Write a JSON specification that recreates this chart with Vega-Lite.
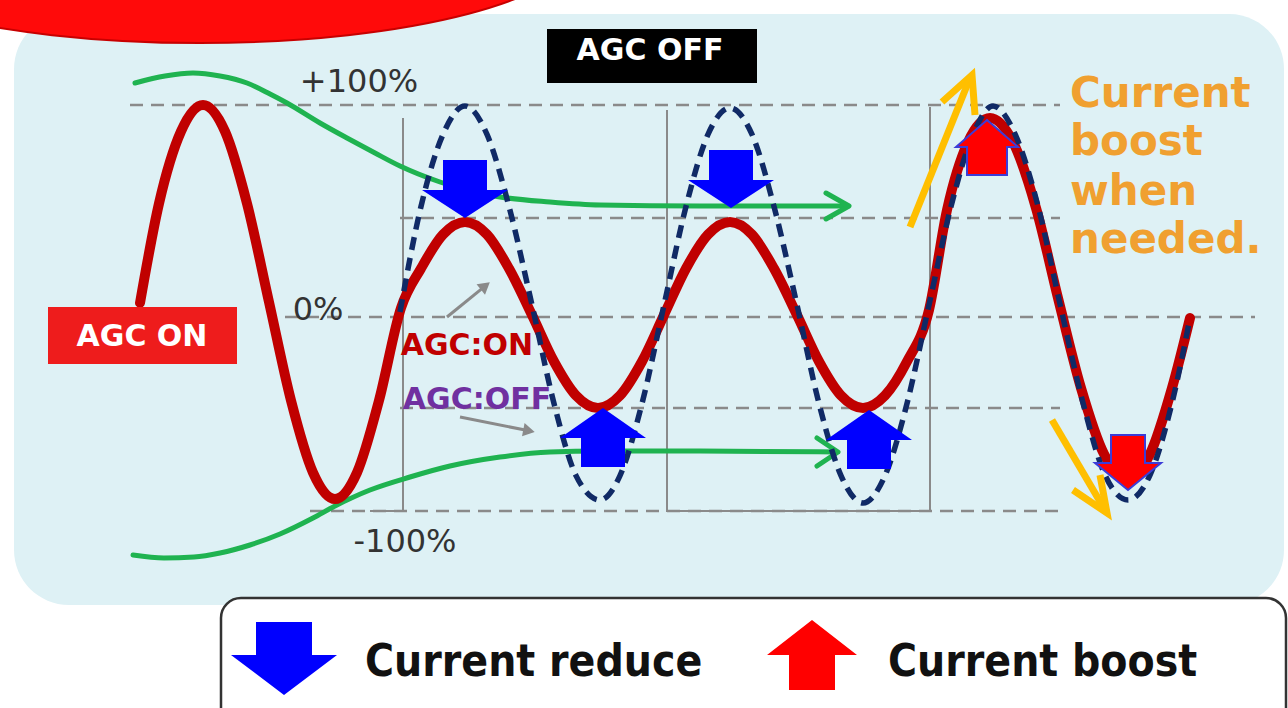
{
  "$schema": "https://vega.github.io/schema/vega-lite/v6.json",
  "width": 1288,
  "height": 708,
  "autosize": "none",
  "padding": 0,
  "background": "#ffffff",
  "config": {"view": {"stroke": null}},
  "resolve": {"scale": {"color": "independent", "shape": "independent"}},
  "datasets": {
    "panel": [{"t": -193, "t2": 442, "v": 147, "v2": -148.5}],
    "legendBox": [{"t": -89.5, "t2": 443, "v": -145, "v2": -216}],
    "tags": [
      {"name": "AGC OFF", "t": 73.5, "t2": 178.5, "v": 139.5, "v2": 112.5},
      {"name": "AGC ON", "t": -176, "t2": -81.5, "v": 0.5, "v2": -28}
    ],
    "banner": [{"t": -100, "v": 182.5}],
    "dashes": [
      {"id": "d100", "t": -135, "v": 101.5}, {"id": "d100", "t": 330, "v": 101.5},
      {"id": "d45", "t": 0, "v": 45}, {"id": "d45", "t": 330, "v": 45},
      {"id": "d0", "t": -57.5, "v": -4.5}, {"id": "d0", "t": 427.5, "v": -4.5},
      {"id": "dm50", "t": 0, "v": -50}, {"id": "dm50", "t": 330, "v": -50},
      {"id": "dm100", "t": -45, "v": -101.5}, {"id": "dm100", "t": 330, "v": -101.5}
    ],
    "frames": [
      {"id": "s1", "i": 0, "t": -15, "v": -101.5}, {"id": "s1", "i": 1, "t": 1.5, "v": -101.5}, {"id": "s1", "i": 2, "t": 1.5, "v": 95},
      {"id": "s2", "i": 0, "t": 133.5, "v": 99}, {"id": "s2", "i": 1, "t": 133.5, "v": -101.5}, {"id": "s2", "i": 2, "t": 265, "v": -101.5}, {"id": "s2", "i": 3, "t": 265, "v": 100.5}
    ],
    "agcOn": [
      {"t": -130, "v": 2.5}, {"t": -120.5, "v": 52.25}, {"t": -109.5, "v": 88.3}, {"t": -98.5, "v": 101.5},
      {"t": -87.5, "v": 88.3}, {"t": -76.5, "v": 52.25}, {"t": -65.5, "v": 3}, {"t": -54.5, "v": -46.25},
      {"t": -43.5, "v": -82.3}, {"t": -32.5, "v": -95.5}, {"t": -21.5, "v": -82.3}, {"t": -10.5, "v": -46.25},
      {"t": 0.5, "v": 0}, {"t": 10.5, "v": 19.75}, {"t": 21.5, "v": 36.75}, {"t": 32.5, "v": 43},
      {"t": 43.5, "v": 36.75}, {"t": 54.5, "v": 19.75}, {"t": 66, "v": -3.5}, {"t": 77, "v": -26.75},
      {"t": 88, "v": -43.75}, {"t": 99, "v": -50}, {"t": 110, "v": -43.75}, {"t": 121, "v": -26.75},
      {"t": 132, "v": -3.5}, {"t": 143, "v": 19.75}, {"t": 154, "v": 36.75}, {"t": 165, "v": 43},
      {"t": 176, "v": 36.75}, {"t": 187, "v": 19.75}, {"t": 198.5, "v": -3.5}, {"t": 209.5, "v": -26.75},
      {"t": 220.5, "v": -43.75}, {"t": 231.5, "v": -50}, {"t": 242.5, "v": -43.75}, {"t": 253.5, "v": -26.75},
      {"t": 264.5, "v": -1}, {"t": 273.5, "v": 49}, {"t": 284, "v": 83}, {"t": 295, "v": 95},
      {"t": 306.5, "v": 83}, {"t": 318, "v": 50}, {"t": 329, "v": 5}, {"t": 340.5, "v": -40},
      {"t": 352, "v": -73}, {"t": 363.5, "v": -85}, {"t": 375, "v": -73}, {"t": 386, "v": -40}, {"t": 395, "v": -5}
    ],
    "agcOff": [
      {"t": 0, "v": -2}, {"t": 10.5, "v": 50.75}, {"t": 21.5, "v": 86.8}, {"t": 32.5, "v": 101},
      {"t": 43.5, "v": 86.8}, {"t": 54.5, "v": 50.75}, {"t": 66, "v": 1.5}, {"t": 77, "v": -47.75},
      {"t": 88, "v": -83.8}, {"t": 100, "v": -96}, {"t": 110, "v": -83.8}, {"t": 121, "v": -47.75},
      {"t": 132, "v": 1.5}, {"t": 143, "v": 50.75}, {"t": 154, "v": 86.8}, {"t": 165, "v": 100},
      {"t": 176, "v": 86.8}, {"t": 187, "v": 50.75}, {"t": 198.5, "v": 1.5}, {"t": 209.5, "v": -47.75},
      {"t": 220.5, "v": -83.8}, {"t": 231.5, "v": -97.5}, {"t": 242.5, "v": -83.8}, {"t": 253.5, "v": -47.75},
      {"t": 264.5, "v": 1.5}, {"t": 275.5, "v": 50.75}, {"t": 286.5, "v": 86.8}, {"t": 296.5, "v": 101},
      {"t": 307.5, "v": 87}, {"t": 319, "v": 51}, {"t": 330, "v": 2}, {"t": 341.5, "v": -47.5},
      {"t": 352.5, "v": -83.5}, {"t": 364, "v": -96}, {"t": 375, "v": -83.5}, {"t": 386, "v": -47.5}, {"t": 395, "v": -5}
    ],
    "green": [
      {"id": "top", "t": -132.5, "v": 112.5}, {"id": "top", "t": -117.5, "v": 116}, {"id": "top", "t": -103.5, "v": 117.5},
      {"id": "top", "t": -90, "v": 116}, {"id": "top", "t": -76.5, "v": 112.5}, {"id": "top", "t": -65, "v": 107},
      {"id": "top", "t": -56.5, "v": 102.5}, {"id": "top", "t": -40, "v": 92.5}, {"id": "top", "t": -26.5, "v": 85},
      {"id": "top", "t": -12.5, "v": 77.5}, {"id": "top", "t": 0, "v": 71}, {"id": "top", "t": 20, "v": 63},
      {"id": "top", "t": 35, "v": 58.5}, {"id": "top", "t": 50, "v": 55.5}, {"id": "top", "t": 75, "v": 53},
      {"id": "top", "t": 100, "v": 51.5}, {"id": "top", "t": 150, "v": 51}, {"id": "top", "t": 224, "v": 51},
      {"id": "bottom", "t": -133.5, "v": -123.5}, {"id": "bottom", "t": -118, "v": -125}, {"id": "bottom", "t": -103, "v": -124.5},
      {"id": "bottom", "t": -90, "v": -122.5}, {"id": "bottom", "t": -75, "v": -118.5}, {"id": "bottom", "t": -60, "v": -113},
      {"id": "bottom", "t": -43.5, "v": -105}, {"id": "bottom", "t": -32.5, "v": -99}, {"id": "bottom", "t": -15, "v": -91},
      {"id": "bottom", "t": 5, "v": -84.5}, {"id": "bottom", "t": 25, "v": -79}, {"id": "bottom", "t": 50, "v": -74.5},
      {"id": "bottom", "t": 75, "v": -72}, {"id": "bottom", "t": 100, "v": -71.5}, {"id": "bottom", "t": 150, "v": -71.5},
      {"id": "bottom", "t": 218, "v": -72}
    ],
    "greenHeads": [
      {"id": "top", "i": 0, "t": 213, "v": 57.5}, {"id": "top", "i": 1, "t": 224.5, "v": 51}, {"id": "top", "i": 2, "t": 213, "v": 44.5},
      {"id": "bottom", "i": 0, "t": 208.5, "v": -65}, {"id": "bottom", "i": 1, "t": 219, "v": -72}, {"id": "bottom", "i": 2, "t": 208.5, "v": -79}
    ],
    "orange": [
      {"id": "o1s", "i": 0, "t": 255, "v": 40.5}, {"id": "o1s", "i": 1, "t": 285, "v": 115},
      {"id": "o1h", "i": 0, "t": 271, "v": 103}, {"id": "o1h", "i": 1, "t": 286, "v": 116.5}, {"id": "o1h", "i": 2, "t": 287.5, "v": 96.5},
      {"id": "o2s", "i": 0, "t": 326, "v": -56}, {"id": "o2s", "i": 1, "t": 352.5, "v": -101},
      {"id": "o2h", "i": 0, "t": 336.5, "v": -91}, {"id": "o2h", "i": 1, "t": 353.5, "v": -102.5}, {"id": "o2h", "i": 2, "t": 350, "v": -83.5}
    ],
    "pointers": [
      {"id": "a1", "t": 23.5, "v": -4.5}, {"id": "a1", "t": 42.65, "v": 11.1},
      {"id": "a2", "t": 30, "v": -54.5}, {"id": "a2", "t": 64.5, "v": -61.4}
    ],
    "pointerHeads": [
      {"id": "a1", "t": 42.65, "v": 11.1, "dir": 51},
      {"id": "a2", "t": 64.5, "v": -61.4, "dir": 101}
    ],
    "reduceArrows": [
      {"kind": "down", "t": 32.5, "v": 45},
      {"kind": "down", "t": 165.5, "v": 50},
      {"kind": "up", "t": 101.5, "v": -50},
      {"kind": "up", "t": 234.5, "v": -51}
    ],
    "boostArrows": [
      {"kind": "up", "t": 293.5, "v": 94},
      {"kind": "down", "t": 364, "v": -91}
    ],
    "legendArrows": [
      {"kind": "reduce", "t": -58, "v": -193.5},
      {"kind": "boost", "t": 206, "v": -156}
    ],
    "levelLabels": [
      {"txt": "+100%", "t": -20.5, "v": 113},
      {"txt": "0%", "t": -41, "v": -1},
      {"txt": "-100%", "t": 2.5, "v": -117}
    ],
    "tagLabels": [
      {"txt": "AGC OFF", "t": 125, "v": 128.5},
      {"txt": "AGC ON", "t": -129, "v": -14.5}
    ],
    "curveLabels": [
      {"txt": "AGC:ON", "t": 33.5, "v": -19},
      {"txt": "AGC:OFF", "t": 38.5, "v": -46}
    ],
    "note": [
      {"txt": "Current", "t": 335, "v": 100.5},
      {"txt": "boost", "t": 335, "v": 76.5},
      {"txt": "when", "t": 335, "v": 51.5},
      {"txt": "needed.", "t": 335, "v": 27.5}
    ],
    "legendLabels": [
      {"txt": "Current reduce", "t": -17.5, "v": -184},
      {"txt": "Current boost", "t": 244, "v": -184}
    ]
  },
  "encoding": {
    "x": {"field": "t", "type": "quantitative", "scale": {"domain": [-200, 444], "nice": false, "zero": false}, "axis": null},
    "y": {"field": "v", "type": "quantitative", "scale": {"domain": [-200, 154], "nice": false, "zero": false}, "axis": null}
  },
  "layer": [
    {
      "data": {"name": "panel"},
      "mark": {"type": "rect", "fill": "#def1f5", "cornerRadius": 55},
      "encoding": {"x2": {"field": "t2"}, "y2": {"field": "v2"}}
    },
    {
      "data": {"name": "banner"},
      "mark": {"type": "point", "filled": true, "opacity": 1, "size": 4, "shape": "M-380,0A380,100,0,1,0,380,0A380,100,0,1,0,-380,0Z", "fill": "#ff0a0a", "stroke": "#c80000", "strokeWidth": 2}
    },
    {
      "data": {"name": "dashes"},
      "mark": {"type": "line", "color": "#8a8a8a", "strokeWidth": 2.5, "strokeDash": [13, 8]},
      "encoding": {"detail": {"field": "id"}}
    },
    {
      "data": {"name": "frames"},
      "mark": {"type": "line", "color": "#8a8a8a", "strokeWidth": 2},
      "encoding": {"detail": {"field": "id"}, "order": {"field": "i"}}
    },
    {
      "data": {"name": "green"},
      "mark": {"type": "line", "color": "#1fb350", "strokeWidth": 5, "interpolate": "monotone", "strokeCap": "round"},
      "encoding": {"detail": {"field": "id"}}
    },
    {
      "data": {"name": "greenHeads"},
      "mark": {"type": "line", "color": "#1fb350", "strokeWidth": 5, "strokeCap": "round", "strokeJoin": "round"},
      "encoding": {"detail": {"field": "id"}, "order": {"field": "i"}}
    },
    {
      "data": {"name": "agcOn"},
      "mark": {"type": "line", "color": "#c00000", "strokeWidth": 10, "interpolate": "monotone", "strokeCap": "round", "strokeJoin": "round"}
    },
    {
      "data": {"name": "agcOff"},
      "mark": {"type": "line", "color": "#102a66", "strokeWidth": 5.5, "strokeDash": [13, 8], "interpolate": "monotone"}
    },
    {
      "data": {"name": "pointers"},
      "mark": {"type": "line", "color": "#8a8a8a", "strokeWidth": 3},
      "encoding": {"detail": {"field": "id"}}
    },
    {
      "data": {"name": "pointerHeads"},
      "mark": {"type": "point", "shape": "triangle-up", "filled": true, "opacity": 1, "size": 180, "color": "#8a8a8a"},
      "encoding": {"angle": {"field": "dir", "type": "quantitative", "scale": null}}
    },
    {
      "data": {"name": "orange"},
      "mark": {"type": "line", "color": "#ffbf00", "strokeWidth": 7, "strokeJoin": "miter"},
      "encoding": {"detail": {"field": "id"}, "order": {"field": "i"}}
    },
    {
      "data": {"name": "reduceArrows"},
      "mark": {"type": "point", "filled": true, "opacity": 1, "size": 4, "color": "#0000ff"},
      "encoding": {
        "shape": {"field": "kind", "type": "nominal", "legend": null,
          "scale": {"domain": ["down", "up"], "range": ["M0,0L-43,-28L-22,-28L-22,-58L22,-58L22,-28L43,-28Z", "M0,0L43,30L22,30L22,59L-22,59L-22,30L-43,30Z"]}}
      }
    },
    {
      "data": {"name": "boostArrows"},
      "mark": {"type": "point", "filled": true, "opacity": 1, "size": 4, "fill": "#ff0000", "stroke": "#3c3cd8", "strokeWidth": 2},
      "encoding": {
        "shape": {"field": "kind", "type": "nominal", "legend": null,
          "scale": {"domain": ["up", "down"], "range": ["M0,0L31,27L20,27L20,55L-20,55L-20,27L-31,27Z", "M0,0L-33,-27L-17,-27L-17,-55L17,-55L17,-27L33,-27Z"]}}
      }
    },
    {
      "data": {"name": "tags"},
      "mark": {"type": "rect"},
      "encoding": {
        "x2": {"field": "t2"}, "y2": {"field": "v2"},
        "color": {"field": "name", "type": "nominal", "legend": null, "scale": {"domain": ["AGC OFF", "AGC ON"], "range": ["#000000", "#ee1c1c"]}}
      }
    },
    {
      "data": {"name": "legendBox"},
      "mark": {"type": "rect", "fill": "#ffffff", "stroke": "#333333", "strokeWidth": 2.5, "cornerRadius": 20},
      "encoding": {"x2": {"field": "t2"}, "y2": {"field": "v2"}}
    },
    {
      "data": {"name": "legendArrows"},
      "mark": {"type": "point", "filled": true, "opacity": 1, "size": 4},
      "encoding": {
        "shape": {"field": "kind", "type": "nominal", "legend": null,
          "scale": {"domain": ["reduce", "boost"], "range": ["M0,0L-53,-40L-28,-40L-28,-73L28,-73L28,-40L53,-40Z", "M0,0L45,35L23,35L23,70L-23,70L-23,35L-45,35Z"]}},
        "color": {"field": "kind", "type": "nominal", "legend": null, "scale": {"domain": ["reduce", "boost"], "range": ["#0000ff", "#ff0000"]}}
      }
    },
    {
      "data": {"name": "levelLabels"},
      "mark": {"type": "text", "font": "DejaVu Sans", "fontSize": 32, "color": "#333333", "align": "center", "baseline": "middle"},
      "encoding": {"text": {"field": "txt"}}
    },
    {
      "data": {"name": "tagLabels"},
      "mark": {"type": "text", "font": "DejaVu Sans", "fontWeight": "bold", "fontSize": 30, "color": "#ffffff", "align": "center", "baseline": "middle"},
      "encoding": {"text": {"field": "txt"}}
    },
    {
      "data": {"name": "curveLabels"},
      "mark": {"type": "text", "font": "DejaVu Sans", "fontWeight": "bold", "fontSize": 30, "align": "center", "baseline": "middle"},
      "encoding": {
        "text": {"field": "txt"},
        "color": {"field": "txt", "type": "nominal", "legend": null, "scale": {"domain": ["AGC:ON", "AGC:OFF"], "range": ["#c00000", "#7030a0"]}}
      }
    },
    {
      "data": {"name": "note"},
      "mark": {"type": "text", "font": "DejaVu Sans", "fontWeight": "bold", "fontSize": 42, "color": "#f0a030", "align": "left", "baseline": "alphabetic"},
      "encoding": {"text": {"field": "txt"}}
    },
    {
      "data": {"name": "legendLabels"},
      "mark": {"type": "text", "font": "DejaVu Sans Condensed, DejaVu Sans", "fontWeight": "bold", "fontSize": 44, "color": "#111111", "align": "left", "baseline": "alphabetic"},
      "encoding": {"text": {"field": "txt"}}
    }
  ]
}
